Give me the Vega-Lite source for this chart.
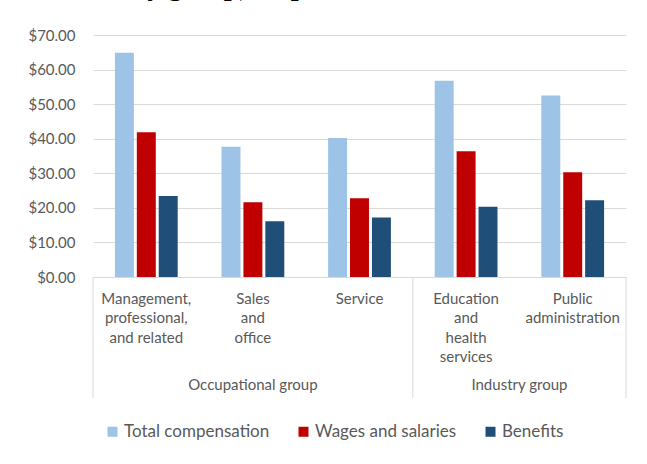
{
  "$schema": "https://vega.github.io/schema/vega-lite/v6.json",
  "autosize": {"type": "none"},
  "width": 533,
  "height": 242,
  "padding": {"left": 93, "top": 35, "right": 21, "bottom": 187},
  "background": "white",
  "title": {
    "text": "and industry group), September 2019",
    "font": "Liberation Serif",
    "fontSize": 28,
    "fontWeight": "bold",
    "color": "black",
    "anchor": "start",
    "frame": "group",
    "baseline": "alphabetic",
    "dx": -85,
    "offset": 5
  },
  "config": {
    "font": "Lato",
    "view": {"stroke": null},
    "axis": {"labelFont": "Lato", "labelColor": "#595959"},
    "legend": {"labelFont": "Lato"}
  },
  "resolve": {"axis": {"y": "independent"}},
  "datasets": {
    "costs": [
      {"cat": "Management, professional, and related", "series": "Total compensation", "value": 64.9},
      {"cat": "Management, professional, and related", "series": "Wages and salaries", "value": 41.9},
      {"cat": "Management, professional, and related", "series": "Benefits", "value": 23.4},
      {"cat": "Sales and office", "series": "Total compensation", "value": 37.7},
      {"cat": "Sales and office", "series": "Wages and salaries", "value": 21.6},
      {"cat": "Sales and office", "series": "Benefits", "value": 16.1},
      {"cat": "Service", "series": "Total compensation", "value": 40.2},
      {"cat": "Service", "series": "Wages and salaries", "value": 22.8},
      {"cat": "Service", "series": "Benefits", "value": 17.2},
      {"cat": "Education and health services", "series": "Total compensation", "value": 56.8},
      {"cat": "Education and health services", "series": "Wages and salaries", "value": 36.4},
      {"cat": "Education and health services", "series": "Benefits", "value": 20.3},
      {"cat": "Public administration", "series": "Total compensation", "value": 52.5},
      {"cat": "Public administration", "series": "Wages and salaries", "value": 30.3},
      {"cat": "Public administration", "series": "Benefits", "value": 22.2}
    ],
    "groupStarts": [
      {"cat": "Management, professional, and related"},
      {"cat": "Education and health services"}
    ],
    "groupEnds": [
      {"cat": "Public administration"}
    ],
    "occLabel": [
      {"cat": "Sales and office", "group": "Occupational group"}
    ],
    "indLabel": [
      {"cat": "Public administration", "group": "Industry group"}
    ]
  },
  "layer": [
    {
      "data": {"name": "costs"},
      "mark": {"type": "bar"},
      "encoding": {
        "x": {
          "field": "cat",
          "type": "nominal",
          "scale": {
            "domain": ["Management, professional, and related", "Sales and office", "Service", "Education and health services", "Public administration"],
            "paddingInner": 0,
            "paddingOuter": 0
          },
          "axis": {
            "title": null,
            "labelAngle": 0,
            "ticks": false,
            "grid": false,
            "domain": true,
            "domainColor": "#d9d9d9",
            "domainWidth": 1,
            "labelPadding": 14,
            "labelFontSize": 15,
            "labelLineHeight": 19.5,
            "labelBaseline": "top",
            "labelLimit": 0,
            "labelOverlap": false,
            "labelExpr": "split(replace(datum.label, 'and related', 'and\u00a0related'), ' ')"
          }
        },
        "xOffset": {
          "field": "series",
          "type": "nominal",
          "sort": ["Total compensation", "Wages and salaries", "Benefits"],
          "scale": {"paddingInner": 0.135, "paddingOuter": 1.28}
        },
        "y": {
          "field": "value",
          "type": "quantitative",
          "scale": {"domain": [0, 70], "nice": false, "zero": true},
          "axis": {
            "title": null,
            "values": [0, 10, 20, 30, 40, 50, 60, 70],
            "format": "$.2f",
            "domain": false,
            "ticks": false,
            "grid": true,
            "gridColor": "#d9d9d9",
            "gridWidth": 1,
            "labelPadding": 18,
            "labelFontSize": 15,
            "labelOverlap": false
          }
        },
        "color": {
          "field": "series",
          "type": "nominal",
          "sort": ["Total compensation", "Wages and salaries", "Benefits"],
          "scale": {
            "domain": ["Total compensation", "Wages and salaries", "Benefits"],
            "range": ["#9dc3e6", "#c00000", "#1f4e79"]
          },
          "legend": {
            "title": null,
            "orient": "none",
            "direction": "horizontal",
            "legendX": 11,
            "legendY": 388,
            "padding": 0,
            "symbolType": "square",
            "symbolSize": 100,
            "symbolStrokeWidth": 0,
            "labelFontSize": 17,
            "labelColor": "#595959",
            "labelOffset": 3,
            "columnPadding": 25
          }
        }
      }
    },
    {
      "data": {"name": "groupStarts"},
      "mark": {"type": "rule", "color": "#d9d9d9", "strokeWidth": 1},
      "encoding": {
        "x": {"field": "cat", "type": "nominal", "bandPosition": 0},
        "y": {"datum": 0, "type": "quantitative", "axis": null},
        "y2": {"datum": -35}
      }
    },
    {
      "data": {"name": "groupEnds"},
      "mark": {"type": "rule", "color": "#d9d9d9", "strokeWidth": 1},
      "encoding": {
        "x": {"field": "cat", "type": "nominal", "bandPosition": 1},
        "y": {"datum": 0, "type": "quantitative", "axis": null},
        "y2": {"datum": -35}
      }
    },
    {
      "data": {"name": "occLabel"},
      "mark": {"type": "text", "font": "Lato", "fontSize": 15, "color": "#595959", "baseline": "alphabetic", "align": "center", "dy": 113},
      "encoding": {
        "x": {"field": "cat", "type": "nominal", "bandPosition": 0.5},
        "y": {"datum": 0, "type": "quantitative", "axis": null},
        "text": {"field": "group"}
      }
    },
    {
      "data": {"name": "indLabel"},
      "mark": {"type": "text", "font": "Lato", "fontSize": 15, "color": "#595959", "baseline": "alphabetic", "align": "center", "dy": 113},
      "encoding": {
        "x": {"field": "cat", "type": "nominal", "bandPosition": 0},
        "y": {"datum": 0, "type": "quantitative", "axis": null},
        "text": {"field": "group"}
      }
    }
  ]
}
